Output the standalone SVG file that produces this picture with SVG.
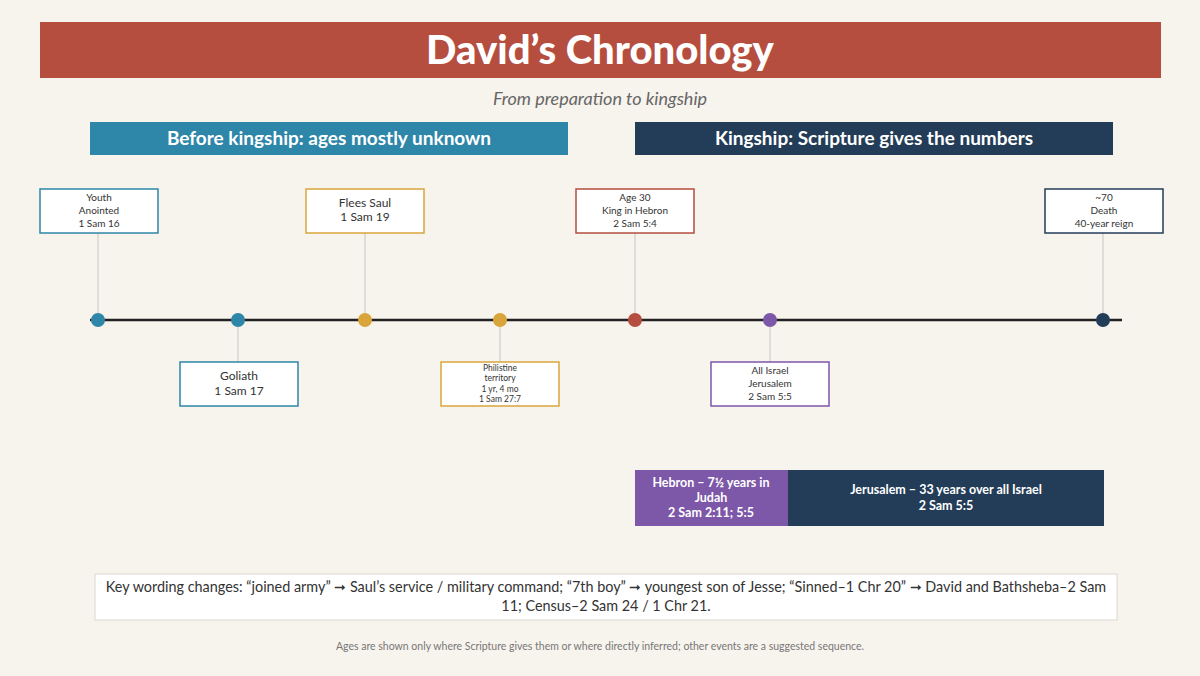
<svg xmlns="http://www.w3.org/2000/svg" width="1200" height="676" viewBox="0 0 1200 676">
<style>
.t{font-family:Lato,"Noto Sans","Liberation Sans",sans-serif;text-anchor:middle}
.box{fill:#fff;stroke-width:1.5}
.bt{fill:#333;font-size:10px}
.bt12{fill:#333;font-size:12px}
.wb{fill:#fff;font-weight:bold}
.conn{stroke:#d0ccc6;stroke-width:1.2}
</style>
<rect width="1200" height="676" fill="#f7f3ed"/>
<g id="title">
<rect x="40" y="22" width="1121" height="56" fill="#b54e3f"/>
<text class="t" x="600" y="64" font-size="40" font-weight="900" fill="#fff">David’s Chronology</text>
<text class="t" x="600" y="105" font-size="18" font-style="italic" fill="#666">From preparation to kingship</text>
</g>
<g id="section-before">
<rect x="90" y="122" width="478" height="33" fill="#2e86a8"/>
<text class="t wb" x="329" y="145" font-size="19">Before kingship: ages mostly unknown</text>
</g>
<g id="section-kingship">
<rect x="635" y="122" width="478" height="33" fill="#233d58"/>
<text class="t wb" x="874" y="145" font-size="19">Kingship: Scripture gives the numbers</text>
</g>
<g id="connectors">
<line class="conn" x1="98" y1="233" x2="98" y2="320"/>
<line class="conn" x1="365" y1="233" x2="365" y2="320"/>
<line class="conn" x1="635" y1="233" x2="635" y2="320"/>
<line class="conn" x1="1103" y1="233" x2="1103" y2="320"/>
<line class="conn" x1="238" y1="320" x2="238" y2="362"/>
<line class="conn" x1="500" y1="320" x2="500" y2="362"/>
<line class="conn" x1="770" y1="320" x2="770" y2="362"/>
<line x1="90" y1="320" x2="1122" y2="320" stroke="#222" stroke-width="2.5"/>
</g>
<g id="dots">
<circle cx="98" cy="320" r="7" fill="#2e86a8"/>
<circle cx="238" cy="320" r="7" fill="#2e86a8"/>
<circle cx="365" cy="320" r="7" fill="#d9a53b"/>
<circle cx="500" cy="320" r="7" fill="#d9a53b"/>
<circle cx="635" cy="320" r="7" fill="#b54e3f"/>
<circle cx="770" cy="320" r="7" fill="#7d57a8"/>
<circle cx="1103" cy="320" r="7" fill="#233d58"/>
</g>
<g id="youth">
<rect class="box" x="40" y="189" width="118" height="44" stroke="#2e86a8"/>
<text class="t bt" x="99" y="201">Youth</text>
<text class="t bt" x="99" y="214">Anointed</text>
<text class="t bt" x="99" y="227">1 Sam 16</text>
</g>
<g id="flees-saul">
<rect class="box" x="306" y="189" width="118" height="44" stroke="#d9a53b"/>
<text class="t bt12" x="365" y="207">Flees Saul</text>
<text class="t bt12" x="365" y="221">1 Sam 19</text>
</g>
<g id="age30">
<rect class="box" x="576" y="189" width="118" height="44" stroke="#b54e3f"/>
<text class="t bt" x="635" y="201">Age 30</text>
<text class="t bt" x="635" y="214">King in Hebron</text>
<text class="t bt" x="635" y="227">2 Sam 5:4</text>
</g>
<g id="death">
<rect class="box" x="1045" y="189" width="118" height="44" stroke="#233d58"/>
<text class="t bt" x="1104" y="201">~70</text>
<text class="t bt" x="1104" y="214">Death</text>
<text class="t bt" x="1104" y="227">40-year reign</text>
</g>
<g id="goliath">
<rect class="box" x="180" y="362" width="118" height="44" stroke="#2e86a8"/>
<text class="t bt12" x="239" y="380">Goliath</text>
<text class="t bt12" x="239" y="395">1 Sam 17</text>
</g>
<g id="philistine">
<rect class="box" x="441" y="362" width="118" height="44" stroke="#d9a53b"/>
<text class="t" x="500" y="371" font-size="8.5" fill="#333">Philistine</text>
<text class="t" x="500" y="381" font-size="8.5" fill="#333">territory</text>
<text class="t" x="500" y="392" font-size="8.5" fill="#333">1 yr, 4 mo</text>
<text class="t" x="500" y="402" font-size="8.5" fill="#333">1 Sam 27:7</text>
</g>
<g id="all-israel">
<rect class="box" x="711" y="362" width="118" height="44" stroke="#7d57a8"/>
<text class="t bt" x="770" y="374">All Israel</text>
<text class="t bt" x="770" y="387">Jerusalem</text>
<text class="t bt" x="770" y="400">2 Sam 5:5</text>
</g>
<g id="hebron-bar">
<rect x="635" y="470" width="153" height="56" fill="#7d57a8"/>
<text class="t wb" x="711" y="487" font-size="12.5">Hebron – 7½ years in</text>
<text class="t wb" x="711" y="502" font-size="12.5">Judah</text>
<text class="t wb" x="711" y="517" font-size="12.5">2 Sam 2:11; 5:5</text>
</g>
<g id="jerusalem-bar">
<rect x="788" y="470" width="316" height="56" fill="#233d58"/>
<text class="t wb" x="946" y="494" font-size="12.5">Jerusalem – 33 years over all Israel</text>
<text class="t wb" x="946" y="510" font-size="12.5">2 Sam 5:5</text>
</g>
<g id="key-wording">
<rect x="95" y="574" width="1022" height="46" fill="#fff" stroke="#ddd8d0" stroke-width="1"/>
<text class="t" x="606" y="592" font-size="14.4" fill="#333">Key wording changes: “joined army” ➞ Saul’s service / military command; “7th boy” ➞ youngest son of Jesse; “Sinned–1 Chr 20” ➞ David and Bathsheba–2 Sam</text>
<text class="t" x="606" y="611" font-size="14.4" fill="#333">11; Census–2 Sam 24 / 1 Chr 21.</text>
</g>
<g id="footnote">
<text class="t" x="600" y="650" font-size="10.5" fill="#777">Ages are shown only where Scripture gives them or where directly inferred; other events are a suggested sequence.</text>
</g>
</svg>
